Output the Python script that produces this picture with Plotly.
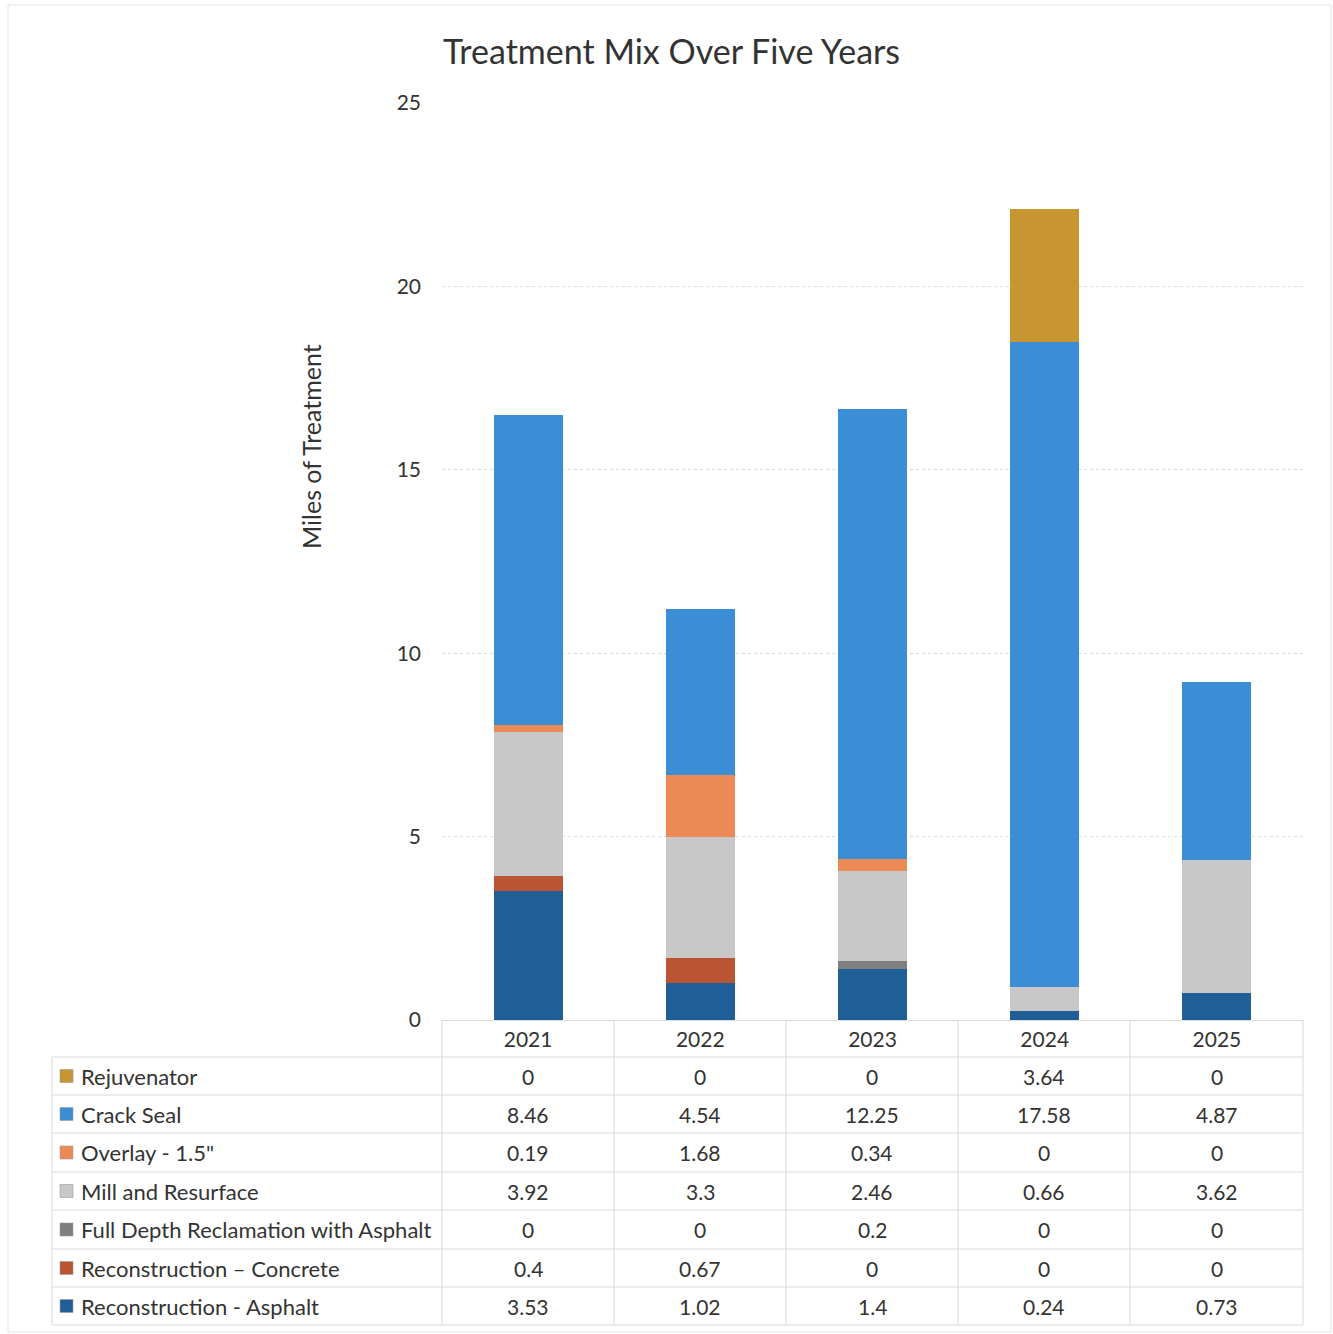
import plotly.graph_objects as go

W, H = 1333, 1334

years = ["2021", "2022", "2023", "2024", "2025"]
series_names = [
    "Rejuvenator",
    "Crack Seal",
    "Overlay - 1.5\"",
    "Mill and Resurface",
    "Full Depth Reclamation with Asphalt",
    "Reconstruction \u2013 Concrete",
    "Reconstruction - Asphalt",
]
rejuvenator = [0, 0, 0, 3.64, 0]
crack_seal = [8.46, 4.54, 12.25, 17.58, 4.87]
overlay = [0.19, 1.68, 0.34, 0, 0]
mill_resurface = [3.92, 3.3, 2.46, 0.66, 3.62]
full_depth = [0, 0, 0.2, 0, 0]
recon_concrete = [0.4, 0.67, 0, 0, 0]
recon_asphalt = [3.53, 1.02, 1.4, 0.24, 0.73]
y_ticks = [0, 5, 10, 15, 20, 25]

series_values = [rejuvenator, crack_seal, overlay, mill_resurface,
                 full_depth, recon_concrete, recon_asphalt]
colors = ["#C89533", "#3B8ED6", "#EC8A55", "#C8C8C8", "#7F7F7F", "#BA5432", "#1F5E96"]

FONT = "Lato"
TXT = "#333333"

def xp(x):
    return x / W

def yp(y):
    return 1 - y / H

# plot area in pixels
PL, PR, PT, PB = 442, 1303, 103, 1020

fig = go.Figure()
# stack bottom to top
for name, vals, col in reversed(list(zip(series_names, series_values, colors))):
    fig.add_trace(go.Bar(
        x=years, y=vals, name=name, width=0.4,
        marker=dict(color=col, line=dict(width=0)),
        showlegend=False,
    ))

fig.update_layout(
    width=W, height=H,
    margin=dict(l=0, r=0, t=0, b=0, pad=0, autoexpand=False),
    barmode="stack",
    showlegend=False,
    paper_bgcolor="white",
    plot_bgcolor="white",
    font=dict(family=FONT, color=TXT, size=20),
    xaxis=dict(
        domain=[xp(PL), xp(PR)], automargin=False,
        showgrid=False, showline=True, linecolor="#d9d9d9", linewidth=1,
        ticks="", tickfont=dict(size=21, color=TXT, family=FONT),
        ticklabelstandoff=1,
    ),
    yaxis=dict(
        domain=[yp(PB), yp(PT)], automargin=False,
        range=[0, 25], tickvals=y_ticks,
        showgrid=True, gridcolor="#dcdcdc", griddash="dot", gridwidth=1,
        zeroline=False, showline=False, ticks="",
        tickfont=dict(size=21, color=TXT, family=FONT),
        ticklabelstandoff=20,
    ),
)

shapes = []
annots = []

# title
annots.append(dict(x=xp(671), y=yp(50), xref="paper", yref="paper",
                   text="Treatment Mix Over Five Years", showarrow=False,
                   font=dict(size=34, color=TXT, family=FONT),
                   xanchor="center", yanchor="middle"))
# y axis title
annots.append(dict(x=xp(311), y=yp(447), xref="paper", yref="paper",
                   text="Miles of Treatment", showarrow=False, textangle=-90,
                   font=dict(size=25, color=TXT, family=FONT),
                   xanchor="center", yanchor="middle"))

# outer border
shapes.append(dict(type="rect", xref="paper", yref="paper",
                   x0=xp(8), x1=xp(1331), y0=yp(1332), y1=yp(5),
                   line=dict(color="#e4e4e4", width=1)))

# table grid
col_x = [442, 614, 786, 958, 1130, 1303]
row_y = [1057, 1095, 1133, 1172, 1210, 1249, 1287, 1325]
grid_col = "#d9d9d9"
for cx in col_x:
    shapes.append(dict(type="line", xref="paper", yref="paper",
                       x0=xp(cx), x1=xp(cx), y0=yp(PB), y1=yp(row_y[-1]),
                       line=dict(color=grid_col, width=1)))
shapes.append(dict(type="line", xref="paper", yref="paper",
                   x0=xp(52), x1=xp(52), y0=yp(row_y[0]), y1=yp(row_y[-1]),
                   line=dict(color=grid_col, width=1)))
for ry in row_y:
    shapes.append(dict(type="line", xref="paper", yref="paper",
                       x0=xp(52), x1=xp(1303), y0=yp(ry), y1=yp(ry),
                       line=dict(color=grid_col, width=1)))

# rows
for i, (name, vals, col) in enumerate(zip(series_names, series_values, colors)):
    yc = (row_y[i] + row_y[i + 1]) / 2
    # legend key
    shapes.append(dict(type="rect", xref="paper", yref="paper",
                       x0=xp(60), x1=xp(73), y0=yp(yc + 6.5), y1=yp(yc - 6.5),
                       fillcolor=col, line=dict(color="#9a9a9a", width=0.6)))
    annots.append(dict(x=xp(79), y=yp(yc), xref="paper", yref="paper",
                       text=name, showarrow=False, xanchor="left", yanchor="middle",
                       font=dict(size=22, color=TXT, family=FONT)))
    for j, v in enumerate(vals):
        xc = (col_x[j] + col_x[j + 1]) / 2
        annots.append(dict(x=xp(xc), y=yp(yc), xref="paper", yref="paper",
                           text=f"{v:g}", showarrow=False,
                           xanchor="center", yanchor="middle",
                           font=dict(size=21, color=TXT, family=FONT)))

fig.update_layout(shapes=shapes, annotations=annots)
fig.write_html("out.html")
